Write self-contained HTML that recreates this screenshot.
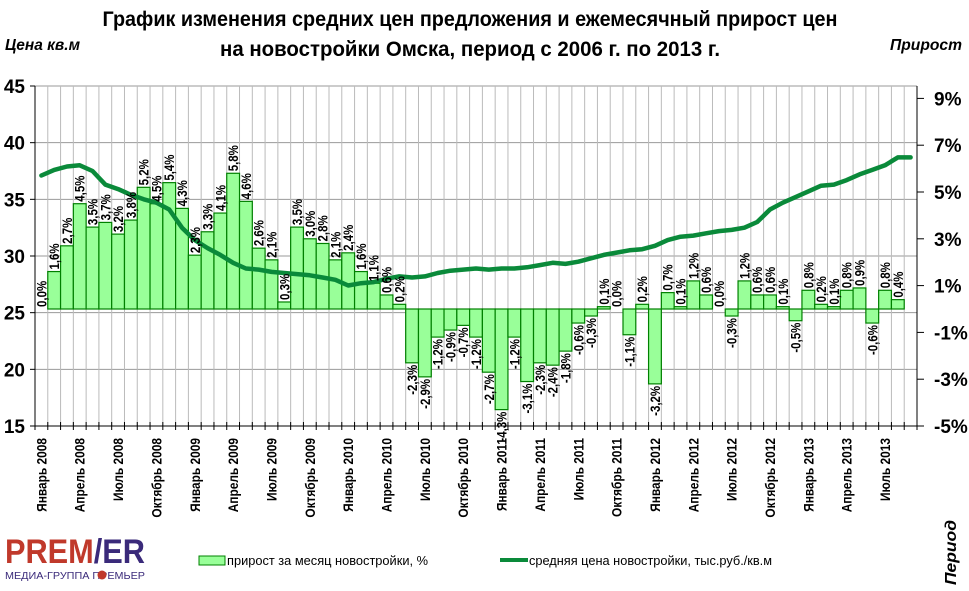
<!DOCTYPE html>
<html><head><meta charset="utf-8">
<style>
body{margin:0;background:#fff;}
svg{display:block;font-family:"Liberation Sans Narrow","Liberation Sans",sans-serif;}
</style></head>
<body>
<svg id="chart" width="969" height="591" viewBox="0 0 969 591" xmlns="http://www.w3.org/2000/svg">
<g font-weight="bold" font-size="21" text-anchor="middle" fill="#000">
<text x="470" y="26" textLength="735" lengthAdjust="spacingAndGlyphs">График изменения средних цен предложения и  ежемесячный прирост цен</text>
<text x="470" y="56" textLength="500" lengthAdjust="spacingAndGlyphs">на новостройки Омска,  период с 2006 г. по 2013 г.</text>
</g>
<text x="5" y="50" font-size="16" font-weight="bold" font-style="italic" textLength="75" lengthAdjust="spacingAndGlyphs">Цена кв.м</text>
<text x="890" y="50" font-size="16" font-weight="bold" font-style="italic" textLength="72" lengthAdjust="spacingAndGlyphs">Прирост</text>
<g id="grid"></g>
<g id="bars"></g>
<g id="line"></g>
<g id="axes"></g>
<g id="labels"></g>
<g>
<text x="5" y="563" font-family="Liberation Sans" font-weight="bold" font-size="34" fill="#c0392b" textLength="140" lengthAdjust="spacingAndGlyphs">PREM<tspan fill="#3a2a7a">/ER</tspan></text>
<text x="5" y="579" font-size="10" fill="#3a2a7a" textLength="140" lengthAdjust="spacingAndGlyphs">МЕДИА-ГРУППА    ПРЕМЬЕР</text>
<circle cx="102" cy="575" r="4.5" fill="#c0392b"/>
</g>
<g font-size="13" fill="#000">
<g>
<rect x="199" y="556" width="26" height="9" fill="#99ff99" stroke="#008000"/>
<text x="227" y="565" textLength="201" lengthAdjust="spacingAndGlyphs">прирост за месяц новостройки, %</text>
</g>
<g>
<line x1="500" y1="560" x2="528" y2="560" stroke="#0a8a3a" stroke-width="4"/>
<text x="529" y="565" textLength="243" lengthAdjust="spacingAndGlyphs">средняя цена новостройки, тыс.руб./кв.м</text>
</g>
</g>
<text transform="translate(956,585) rotate(-90)" font-size="16" font-weight="bold" font-style="italic" textLength="65" lengthAdjust="spacingAndGlyphs">Период</text>
</svg>
<script>
const growth=[0,1.6,2.7,4.5,3.5,3.7,3.2,3.8,5.2,4.5,5.4,4.3,2.3,3.3,4.1,5.8,4.6,2.6,2.1,0.3,3.5,3.0,2.8,2.1,2.4,1.6,1.1,0.6,0.2,-2.3,-2.9,-1.2,-0.9,-0.7,-1.2,-2.7,-4.3,-1.2,-3.1,-2.3,-2.4,-1.8,-0.6,-0.3,0.1,0.0,-1.1,0.2,-3.2,0.7,0.1,1.2,0.6,0.0,-0.3,1.2,0.6,0.6,0.1,-0.5,0.8,0.2,0.1,0.8,0.9,-0.6,0.8,0.4];
const price=[37.1,37.6,37.9,38.0,37.5,36.3,35.9,35.4,35.0,34.7,34.1,32.5,31.4,30.7,30.1,29.4,28.9,28.8,28.6,28.5,28.4,28.3,28.1,27.9,27.4,27.6,27.7,28.0,28.2,28.1,28.2,28.5,28.7,28.8,28.9,28.8,28.9,28.9,29.0,29.2,29.4,29.3,29.5,29.8,30.1,30.3,30.5,30.6,30.9,31.4,31.7,31.8,32.0,32.2,32.3,32.5,33.0,34.1,34.7,35.2,35.7,36.2,36.3,36.7,37.2,37.6,38.0,38.7,38.7];
const months=["Январь","Апрель","Июль","Октябрь"];
const startYear=2008;
const leftTicks=[15,20,25,30,35,40,45];
const rightTicks=[-5,-3,-1,1,3,5,7,9];
const N=price.length;
const NS="http://www.w3.org/2000/svg";
const X0=35,X1=917,Y15=426,Y45=86;
const bw=(X1-X0)/N;
function xc(i){return X0+bw*(i+0.5);}
function yL(v){return Y15-(v-15)/30*(Y15-Y45);}
function yR(p){return 426-(p+5)*23.4;}
function mk(tag,attrs,parent){const e=document.createElementNS(NS,tag);for(const k in attrs)e.setAttribute(k,attrs[k]);parent.appendChild(e);return e;}
const grid=document.getElementById('grid'),bars=document.getElementById('bars'),lineG=document.getElementById('line'),axes=document.getElementById('axes'),labels=document.getElementById('labels');
for(const t of leftTicks){const l=mk('line',{x1:X0,x2:X1,y1:yL(t),y2:yL(t),stroke:'#999','stroke-width':1},grid);

}
for(let i=1;i<N;i++){const l=mk('line',{x1:X0+bw*i,x2:X0+bw*i,y1:Y45,y2:Y15,stroke:'#bbb','stroke-width':1},grid);

}
const base=yR(0);
for(let i=0;i<growth.length;i++){const v=growth[i];const y=yR(v);
const r=mk('rect',{x:X0+bw*i,y:Math.min(y,base),width:bw,height:Math.abs(base-y),fill:'#99ff99',stroke:'#008000','stroke-width':1.2},bars);


const s=(v.toFixed(1)).replace('.',',')+'%';
const tx=xc(i)+5;
let t;
if(v>=0){t=mk('text',{transform:`translate(${tx},${y-2}) rotate(-90) scale(0.82,1)`,'font-size':14,'font-weight':'bold','text-anchor':'start'},labels);}
else{t=mk('text',{transform:`translate(${tx},${y+2}) rotate(-90) scale(0.82,1)`,'font-size':14,'font-weight':'bold','text-anchor':'end'},labels);}
t.textContent=s;

}
let d='';for(let i=0;i<N;i++){d+=(i?'L':'M')+xc(i).toFixed(1)+','+yL(price[i]).toFixed(1);}
const p=mk('path',{d:d,fill:'none',stroke:'#0a8a3a','stroke-width':4.5,'stroke-linejoin':'round','stroke-linecap':'round'},lineG);


mk('line',{x1:X0,x2:X0,y1:Y45,y2:Y15,stroke:'#000'},axes);
mk('line',{x1:X1,x2:X1,y1:Y45,y2:Y15,stroke:'#000'},axes);
mk('line',{x1:X0,x2:X1,y1:Y15,y2:Y15,stroke:'#000'},axes);
for(const t of leftTicks){mk('line',{x1:X0-5,x2:X0,y1:yL(t),y2:yL(t),stroke:'#000'},axes);
const tt=mk('text',{x:X0-10,y:yL(t)+7,'font-size':19,'font-weight':'bold','text-anchor':'end'},axes);tt.textContent=t;

}
for(const t of rightTicks){mk('line',{x1:X1,x2:X1+7,y1:yR(t),y2:yR(t),stroke:'#000'},axes);
const tt=mk('text',{x:934,y:yR(t)+7,'font-size':19,'font-weight':'bold'},axes);tt.textContent=t+'%';

}
for(let i=0;i<=N;i++){mk('line',{x1:X0+bw*i,x2:X0+bw*i,y1:Y15-4,y2:Y15+4,stroke:'#000'},axes);}
for(let i=0;i<N;i+=3){const tt=mk('text',{transform:`translate(${xc(i)+5},438) rotate(-90) scale(0.85,1)`,'font-size':14,'font-weight':'bold','text-anchor':'end'},axes);
tt.textContent=months[(i/3)%4]+' '+(startYear+Math.floor(i/12));

}
</script>
</body></html>
